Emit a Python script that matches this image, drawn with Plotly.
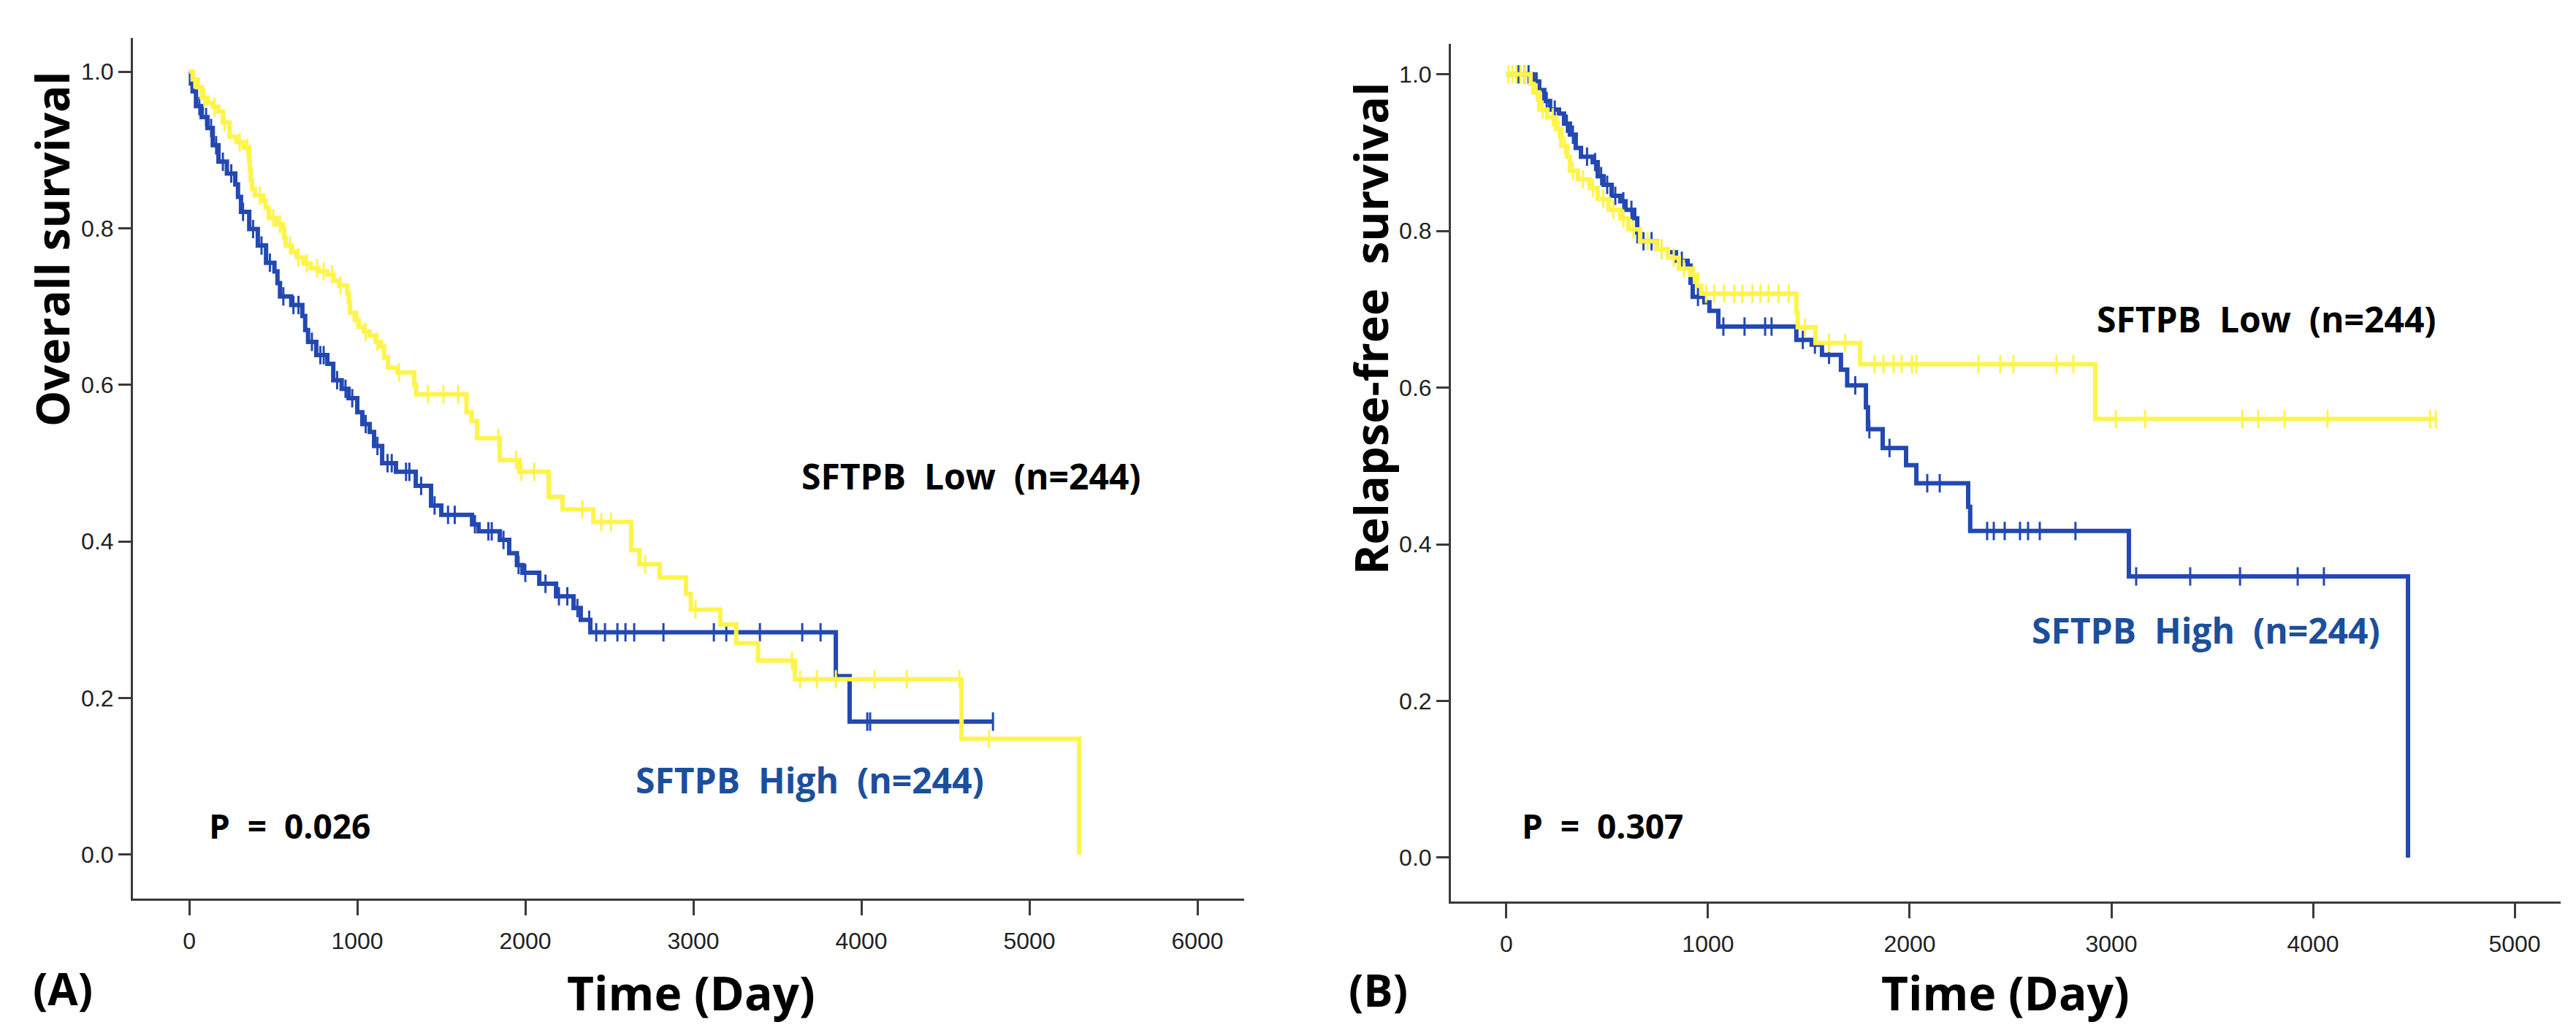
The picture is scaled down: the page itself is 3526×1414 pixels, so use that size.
import numpy as np
import plotly.graph_objects as go

# ---------------- Panel A: Overall survival ----------------
a_low_t = [0, 20, 50, 74, 110, 140, 174, 200, 240, 280, 325, 357, 360, 366, 374, 390, 440, 455, 474,
           520, 557, 565, 574, 610, 640, 680, 723, 770, 822, 860, 891, 940, 950, 957, 985, 1008, 1040,
           1074, 1110, 1139, 1160, 1183, 1239, 1339, 1350, 1650, 1680, 1713, 1848, 1965, 2139, 2222,
           2405, 2630, 2680, 2800, 2956, 2985, 3160, 3255, 3385, 3604, 4596, 5296]
a_low_s = [1.0, 0.990, 0.980, 0.967, 0.960, 0.955, 0.949, 0.935, 0.917, 0.910, 0.903, 0.885, 0.875,
           0.862, 0.850, 0.842, 0.835, 0.826, 0.813, 0.805, 0.799, 0.788, 0.778, 0.770, 0.763, 0.755,
           0.749, 0.745, 0.741, 0.733, 0.727, 0.717, 0.705, 0.692, 0.683, 0.674, 0.668, 0.663, 0.655,
           0.649, 0.635, 0.622, 0.616, 0.600, 0.588, 0.565, 0.554, 0.532, 0.504, 0.489, 0.457, 0.441,
           0.425, 0.389, 0.371, 0.354, 0.333, 0.313, 0.294, 0.270, 0.248, 0.224, 0.148, 0.0]
a_low_cens = [30, 90, 150, 210, 300, 345, 420, 500, 540, 600, 650, 700, 760, 800, 850, 900, 1000, 1050,
              1120, 1248, 1420, 1513, 1600, 1839, 1945, 1977, 2053, 2339, 2452, 2510, 2713, 3013, 3587,
              3635, 3735, 3848, 4078, 4270, 4583, 4760]

a_high_t = [0, 10, 20, 40, 74, 108, 140, 174, 224, 274, 290, 308, 357, 408, 457, 507, 525, 540, 607,
            673, 690, 707, 756, 822, 857, 907, 948, 1000, 1030, 1074, 1100, 1148, 1230, 1348, 1439, 1500,
            1683, 1722, 1848, 1904, 1950, 1983, 2083, 2183, 2287, 2330, 2387, 3848, 3930]
a_high_s = [1.0, 0.985, 0.975, 0.956, 0.942, 0.928, 0.906, 0.885, 0.870, 0.856, 0.840, 0.821, 0.799,
            0.778, 0.756, 0.745, 0.730, 0.713, 0.702, 0.688, 0.670, 0.655, 0.638, 0.627, 0.606, 0.595,
            0.583, 0.565, 0.550, 0.540, 0.522, 0.500, 0.489, 0.471, 0.446, 0.434, 0.422, 0.413, 0.402,
            0.385, 0.370, 0.360, 0.346, 0.330, 0.315, 0.300, 0.284, 0.228, 0.170]
a_high_cens = [15, 60, 100, 130, 160, 200, 250, 320, 380, 430, 480, 560, 620, 650, 730, 780, 800, 880,
               930, 970, 1050, 1120, 1180, 1205, 1290, 1310, 1380, 1460, 1540, 1580, 1700, 1780, 1800,
               1870, 1960, 2000, 2120, 2200, 2250, 2310, 2380, 2422, 2474, 2548, 2596, 2648, 2822, 3122,
               3196, 3396, 3648, 3757, 4035, 4052, 4783]

# ---------------- Panel B: Relapse-free survival ----------------
b_low_t = [0, 120, 134, 163, 203, 246, 272, 301, 315, 355, 413, 453, 507, 565, 605, 663, 746, 801, 855,
           913, 946, 967, 1438, 1445, 1533, 1754, 2920]
b_low_s = [1.0, 0.988, 0.977, 0.955, 0.945, 0.930, 0.909, 0.895, 0.877, 0.866, 0.855, 0.841, 0.827,
           0.816, 0.802, 0.787, 0.777, 0.766, 0.752, 0.744, 0.730, 0.720, 0.696, 0.677, 0.657, 0.630,
           0.560]
b_low_cens = [10, 30, 50, 70, 90, 150, 180, 230, 260, 290, 330, 380, 430, 480, 530, 580, 630, 700, 770,
              830, 880, 930, 990, 1030, 1080, 1130, 1170, 1220, 1260, 1300, 1350, 1400, 1480, 1600, 1680,
              1826, 1870, 1920, 1960, 2011, 2033, 2341, 2449, 2514, 2728, 2812, 3022, 3167, 3649, 3728,
              3859, 4072, 4580, 4609]

b_high_t = [0, 134, 163, 188, 217, 261, 286, 315, 344, 370, 428, 453, 482, 522, 565, 591, 634, 649, 655,
            746, 801, 841, 899, 913, 924, 982, 1007, 1051, 1438, 1514, 1565, 1659, 1690, 1783, 1793,
            1866, 1982, 2033, 2290, 2300, 3087, 4471]
b_high_s = [1.0, 0.991, 0.980, 0.966, 0.955, 0.950, 0.937, 0.923, 0.906, 0.895, 0.888, 0.870, 0.859,
            0.845, 0.838, 0.827, 0.816, 0.798, 0.787, 0.777, 0.773, 0.762, 0.756, 0.734, 0.716, 0.709,
            0.698, 0.678, 0.661, 0.655, 0.642, 0.623, 0.603, 0.575, 0.547, 0.523, 0.501, 0.478, 0.448,
            0.417, 0.359, 0.0]
b_high_cens = [60, 90, 110, 150, 200, 240, 300, 330, 400, 440, 470, 500, 540, 580, 620, 680, 720, 770,
               870, 950, 1076, 1181, 1283, 1315, 1470, 1530, 1600, 1730, 1800, 1900, 2087, 2149, 2384,
               2417, 2471, 2547, 2587, 2645, 2822, 3123, 3391, 3638, 3924, 4054]

x_ticks_a = [0, 1000, 2000, 3000, 4000, 5000, 6000]
x_ticks_b = [0, 1000, 2000, 3000, 4000, 5000]
y_ticks = [0.0, 0.2, 0.4, 0.6, 0.8, 1.0]

label_low = "SFTPB  Low  (n=244)"
label_high = "SFTPB  High  (n=244)"
p_a = "P  =  0.026"
p_b = "P  =  0.307"

YELLOW = "#FFF44A"
BLUE = "#2348B2"
TEXT_BLUE = "#1B4F9C"
AX = "#3a3a3a"

W, H = 3526, 1414


def step_xy(t, s, cens):
    x, y = list(t), list(s)
    end = max(cens)
    if end > x[-1]:
        x.append(end)
        y.append(y[-1])
    return x, y


def surv_at(t, s, times):
    t = np.asarray(t)
    s = np.asarray(s)
    idx = np.searchsorted(t, np.asarray(times), side="right") - 1
    return s[idx]


fig = go.Figure()


def add_curve(t, s, cens, color, xa, ya):
    x, y = step_xy(t, s, cens)
    fig.add_trace(go.Scatter(x=x, y=y, mode="lines", line=dict(color=color, width=6, shape="hv"),
                             xaxis=xa, yaxis=ya, showlegend=False, hoverinfo="skip"))
    fig.add_trace(go.Scatter(x=cens, y=surv_at(t, s, cens), mode="markers",
                             marker=dict(symbol="line-ns", size=18,
                                         line=dict(color=color, width=3)),
                             xaxis=xa, yaxis=ya, showlegend=False, hoverinfo="skip"))


add_curve(a_high_t, a_high_s, a_high_cens, BLUE, "x", "y")
add_curve(a_low_t, a_low_s, a_low_cens, YELLOW, "x", "y")
add_curve(b_high_t, b_high_s, b_high_cens, BLUE, "x2", "y2")
add_curve(b_low_t, b_low_s, b_low_cens, YELLOW, "x2", "y2")

tickfont = dict(family="Liberation Sans, Arial, sans-serif", size=32, color="#222")
common_x = dict(showline=True, linecolor=AX, linewidth=3, ticks="outside", ticklen=20, tickwidth=3,
                tickcolor=AX, showgrid=False, zeroline=False, tickfont=tickfont, ticklabelstandoff=8)
common_y = dict(showline=True, linecolor=AX, linewidth=3, ticks="outside", ticklen=17, tickwidth=3,
                tickcolor=AX, showgrid=False, zeroline=False, tickfont=tickfont, tickvals=y_ticks,
                tickformat=".1f")


def px(x, y):
    return x / W, 1 - y / H


fig.update_layout(
    width=W, height=H, margin=dict(l=0, r=0, t=0, b=0),
    paper_bgcolor="white", plot_bgcolor="white",
    xaxis=dict(domain=[174 / W, 1695 / W], range=[-335, 6278], tickvals=x_ticks_a, anchor="y", **common_x),
    yaxis=dict(domain=[1 - 1222 / H, 1 - 44 / H], range=[-0.056, 1.043], anchor="x", **common_y),
    xaxis2=dict(domain=[1978 / W, 3497 / W], range=[-275, 5228], tickvals=x_ticks_b, anchor="y2", **common_x),
    yaxis2=dict(domain=[1 - 1226 / H, 1 - 52 / H], range=[-0.056, 1.039], anchor="x2", **common_y),
)

LABEL_FONT = "Open Sans, Noto Sans, sans-serif"


def ann(text, x, y, size, color="black", xanchor="center", angle=0):
    xp, yp = px(x, y)
    fig.add_annotation(text="<b>%s</b>" % text, x=xp, y=yp, xref="paper", yref="paper",
                       xanchor=xanchor, yanchor="middle", showarrow=False, textangle=angle,
                       font=dict(family=LABEL_FONT, size=size, color=color))


# Axis titles
ann("Overall survival", 63, 333, 62, angle=-90)
ann("Relapse-free  survival", 1867, 442, 63, angle=-90)
ann("Time (Day)", 938, 1350, 64)
ann("Time (Day)", 2737, 1350, 64)
ann("(A)", 78, 1345, 60)
ann("(B)", 1878, 1347, 60)
# P values
ann(p_a, 276, 1122, 46, xanchor="left")
ann(p_b, 2073, 1122, 46, xanchor="left")
# group labels
ann(label_low, 1321, 643, 48)
ann(label_high, 1100, 1059, 48, color=TEXT_BLUE)
ann(label_low, 3094, 428, 48)
ann(label_high, 3011, 855, 48, color=TEXT_BLUE)

fig.write_html("out.html")
